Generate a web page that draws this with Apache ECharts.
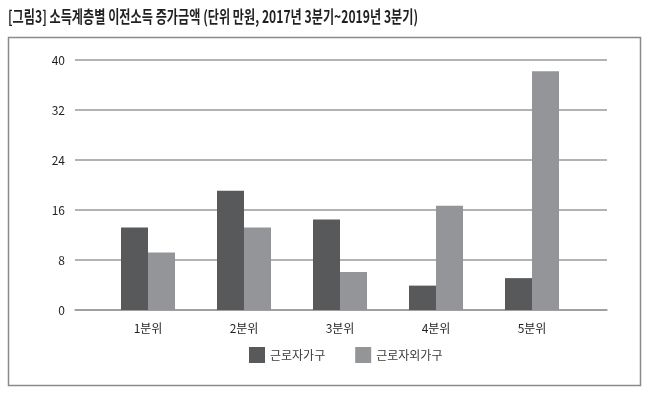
<!DOCTYPE html>
<html>
<head>
<meta charset="utf-8">
<script src="https://cdn.jsdelivr.net/npm/echarts@6/dist/echarts.min.js"></script>
<style>
  html, body { margin: 0; padding: 0; background: #fff; }
  #chart { width: 650px; height: 401px; }
</style>
</head>
<body>
<div id="chart"></div>
<script>
const categories = ["1분위", "2분위", "3분위", "4분위", "5분위"];
const workerHouseholds = [13.2, 19.1, 14.5, 3.9, 5.1];
const nonWorkerHouseholds = [9.2, 13.2, 6.1, 16.7, 38.2];
const yTicks = [0, 8, 16, 24, 32, 40];

const titleText = "[그림3] 소득계층별 이전소득 증가금액 (단위 만원, 2017년 3분기~2019년 3분기)";
const font = "'Noto Sans CJK KR', 'Noto Sans', sans-serif";

const chart = echarts.init(document.getElementById("chart"));

chart.setOption({
  animation: false,
  graphic: [
    {
      // condensed title, like the narrow face in the original
      type: "text",
      x: 8, y: 8,
      scaleX: 0.715,
      style: {
        text: titleText,
        font: "bold 17px " + font,
        fill: "#231f20"
      }
    },
    {
      type: "rect",
      shape: { x: 8.5, y: 37.5, width: 632, height: 348 },
      style: { fill: "none", stroke: "#8a8a8a", lineWidth: 1.5 },
      z: -1
    }
  ],
  legend: {
    bottom: 33,
    left: 244,
    itemWidth: 16,
    itemHeight: 16,
    itemGap: 30,
    icon: "rect",
    textStyle: { fontFamily: font, fontSize: 12, color: "#3a3a3a" },
    data: ["근로자가구", "근로자외가구"]
  },
  grid: [
    { left: 75, right: 43, top: 60, bottom: 91 },
    { left: 100, right: 70, top: 60, bottom: 91 }
  ],
  xAxis: [
    {
      gridIndex: 0, type: "category", data: categories,
      axisLine: { lineStyle: { color: "#9a9a9a", width: 1.5 } },
      axisTick: { show: false }, axisLabel: { show: false }
    },
    {
      gridIndex: 1, type: "category", data: categories,
      axisLine: { show: false }, axisTick: { show: false },
      axisLabel: { fontFamily: font, fontSize: 12, color: "#231f20", margin: 12 }
    }
  ],
  yAxis: [
    {
      gridIndex: 0, type: "value", min: yTicks[0], max: yTicks[yTicks.length - 1], interval: 8,
      axisLine: { show: false }, axisTick: { show: false },
      axisLabel: { fontFamily: font, fontSize: 12, color: "#231f20", margin: 10 },
      splitLine: { lineStyle: { color: "#9a9a9a", width: 1.5 } }
    },
    {
      gridIndex: 1, type: "value", min: yTicks[0], max: yTicks[yTicks.length - 1], interval: 8,
      show: false, splitLine: { show: false }
    }
  ],
  series: [
    {
      name: "근로자가구", type: "bar", xAxisIndex: 1, yAxisIndex: 1,
      data: workerHouseholds, barWidth: 27, barGap: "0%",
      itemStyle: { color: "#58595b" }
    },
    {
      name: "근로자외가구", type: "bar", xAxisIndex: 1, yAxisIndex: 1,
      data: nonWorkerHouseholds, barWidth: 27, barGap: "0%",
      itemStyle: { color: "#939598" }
    }
  ]
});
</script>
</body>
</html>
